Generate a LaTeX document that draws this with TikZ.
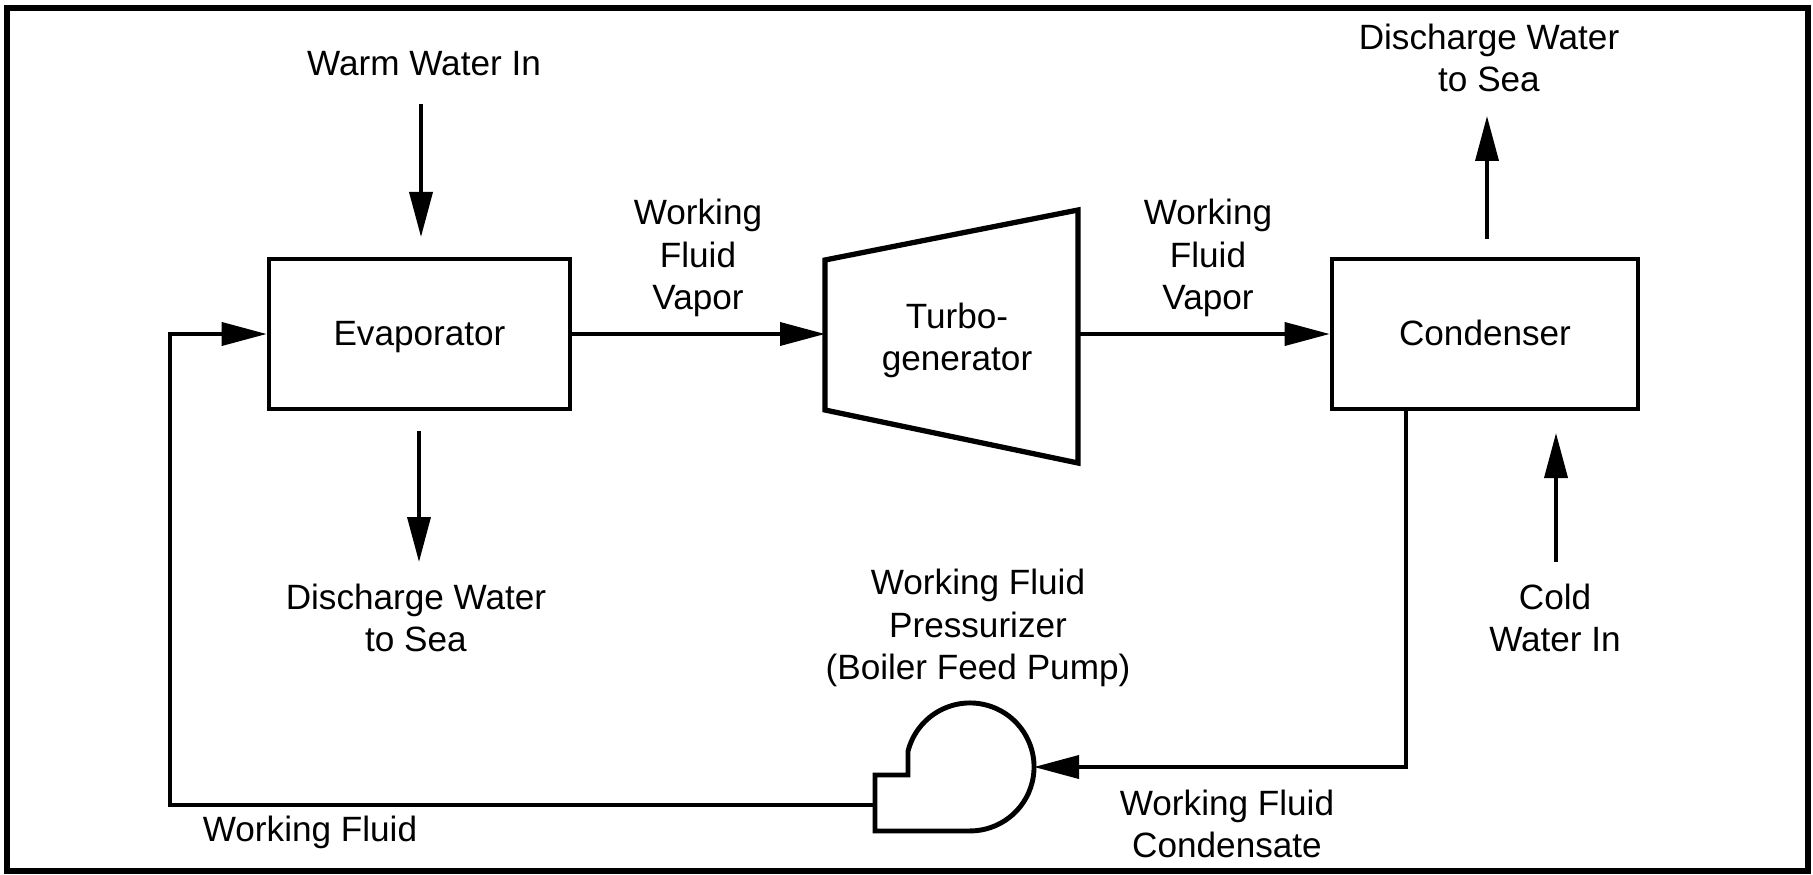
\documentclass[tikz,border=0pt]{standalone}
\usepackage{fontspec}
\setmainfont{Liberation Sans}
\usepackage{tikz}
\usetikzlibrary{positioning, calc, arrows.meta}

\begin{document}
\begin{tikzpicture}[
    font=\fontsize{10}{12}\selectfont,
    nodebox/.style={rectangle, draw, line width=1.3pt, minimum height=1.5cm,
                    text height=1.6ex, text depth=0.4ex, align=center},
    label/.style={align=center, inner sep=0pt},
    arrow/.style={-{Triangle[length=4.5mm, width=2.3mm]}, line width=1.05pt},
  ]
    \useasboundingbox (0,0) rectangle (18.13,8.74);
    \draw[line width=1.6pt] (0.07,0.03) rectangle (18.08,8.66);

    % main components
    \node[nodebox, minimum width=3.01cm] (evap) at (4.195,5.40) {Evaporator};
    \node[nodebox, minimum width=3.06cm] (cond) at (14.85,5.40) {Condenser};

    \coordinate (turbin) at (8.25,5.40);
    \coordinate (turbout) at (10.78,5.40);
    \draw[line width=1.5pt] (8.25,6.14) -- (10.78,6.64) -- (10.78,4.11)
          -- (8.25,4.64) -- cycle;
    \node[label] (turbo) at (9.57,5.34) {Turbo-\\generator};

    \coordinate (pumpin) at (10.34,1.07);
    \coordinate (pumpout) at (8.75,0.69);
    \draw[line width=1.4pt] (9.08,1.228) arc[start angle=165.75, end angle=-90, radius=0.64]
          -- (8.75,0.43) -- (8.75,0.99) -- (9.08,0.99) -- cycle;

    % labels
    \node[label] (warm) at (4.24,8.10) {Warm Water In};
    \node[label] (disleft) at (4.16,2.56) {Discharge Water\\to Sea};
    \node[label] (vapleft) at (6.98,6.16) {Working\\Fluid\\Vapor};
    \node[label] (vapright) at (12.08,6.16) {Working\\Fluid\\Vapor};
    \node[label] (disright) at (14.89,8.16) {Discharge Water\\to Sea};
    \node[label] (cold) at (15.55,2.56) {Cold\\Water In};
    \node[label] (press) at (9.78,2.46) {Working Fluid\\Pressurizer\\(Boiler Feed Pump)};
    \node[label] (fluid) at (3.10,0.42) {Working Fluid};
    \node[label] (conds) at (12.27,0.50) {Working Fluid\\Condensate};

    % water streams
    \coordinate (warmtail) at (4.21,7.70);
    \coordinate (warmtip) at (4.21,6.37);
    \coordinate (distail) at (4.19,4.43);
    \coordinate (distip) at (4.19,3.12);
    \coordinate (uptail) at (14.87,6.35);
    \coordinate (uptip) at (14.87,7.58);
    \coordinate (coldtail) at (15.56,3.12);
    \coordinate (coldtip) at (15.56,4.41);
    \draw[arrow] (warmtail) -- (warmtip);
    \draw[arrow] (distail) -- (distip);
    \draw[arrow] (uptail) -- (uptip);
    \draw[arrow] (coldtail) -- (coldtip);

    % working fluid loop
    \draw[arrow] (evap.east) -- (turbin);
    \draw[arrow] (turbout) -- (cond.west);
    \draw[arrow] (cond.south -| 14.06,0) -- (14.06,1.07) -- (pumpin);
    \draw[arrow] (pumpout) -- (1.70,0.69) |- (evap.west);
  \end{tikzpicture}
\end{document}
